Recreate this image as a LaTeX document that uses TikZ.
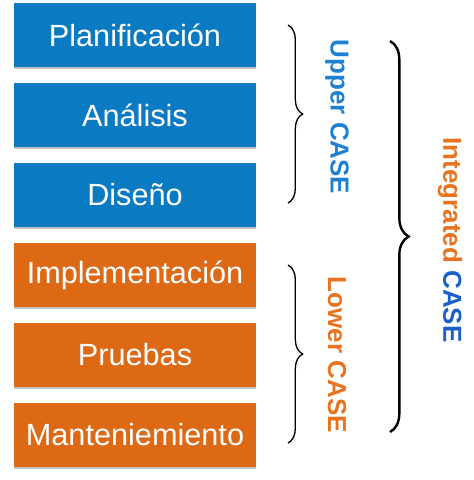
\documentclass[tikz,border=0pt]{standalone}
\usepackage{fontspec}
\setmainfont{Liberation Sans}
\usepackage{tikz}
\usetikzlibrary{decorations.pathreplacing,shadows}

\definecolor{caseblue}{RGB}{10,123,194}
\definecolor{caseorange}{RGB}{222,105,20}
\definecolor{upperblue}{RGB}{30,128,208}
\definecolor{lowerorange}{RGB}{232,114,30}
\definecolor{intblue}{RGB}{26,96,200}

\tikzset{
  phase/.style={minimum width=181.5pt, minimum height=48pt, inner sep=0pt,
    text=white, font=\fontsize{23}{26}\selectfont,
    drop shadow={shadow xshift=0pt, shadow yshift=-1.2pt, opacity=.35, fill=black!70}},
  upperphase/.style={phase, fill=caseblue},
  lowerphase/.style={phase, fill=caseorange},
  smallbrace/.style={decorate, decoration={brace, amplitude=11pt}, line width=1pt},
  bigbrace/.style={decorate, decoration={brace, amplitude=14pt}, line width=1.8pt},
  caselabel/.style={rotate=-90, font=\bfseries\fontsize{19.5}{22}\selectfont}
}

\begin{document}
\begin{tikzpicture}[x=0.75pt,y=0.75pt,yscale=-1,xscale=1]
\useasboundingbox (0,0) rectangle (474,480);

% Upper phases
\node (plan) [upperphase] at (135,35) {Planificación};
\node (anal) [upperphase] at (135,115) {Análisis};
\node (dise) [upperphase] at (135,195) {Diseño};
% Lower phases
\node (impl) [lowerphase] at (135,275) {Implementación};
\node (prue) [lowerphase] at (135,355) {Pruebas};
\node (mant) [lowerphase] at (135,435) {Manteniemiento};

% Brace ends
\coordinate (uppertop) at (288,25);
\coordinate (upperbot) at (288,203);
\coordinate (lowertop) at (288,265);
\coordinate (lowerbot) at (288,443);
\coordinate (inttop) at (390,41);
\coordinate (intbot) at (390,432);

% Braces
\draw [smallbrace] (uppertop) -- (upperbot);
\draw [smallbrace] (lowertop) -- (lowerbot);
\draw [bigbrace] (inttop) -- (intbot);

% Text Node
\node (upper) [caselabel, text=upperblue] at (337,117) {Upper CASE};
% Text Node
\node (lower) [caselabel, text=lowerorange] at (337,355) {Lower CASE};
% Text Node
\node (integ) [caselabel] at (450,240) {\textcolor{lowerorange}{Integrated} \textcolor{intblue}{CASE}};

\end{tikzpicture}
\end{document}
